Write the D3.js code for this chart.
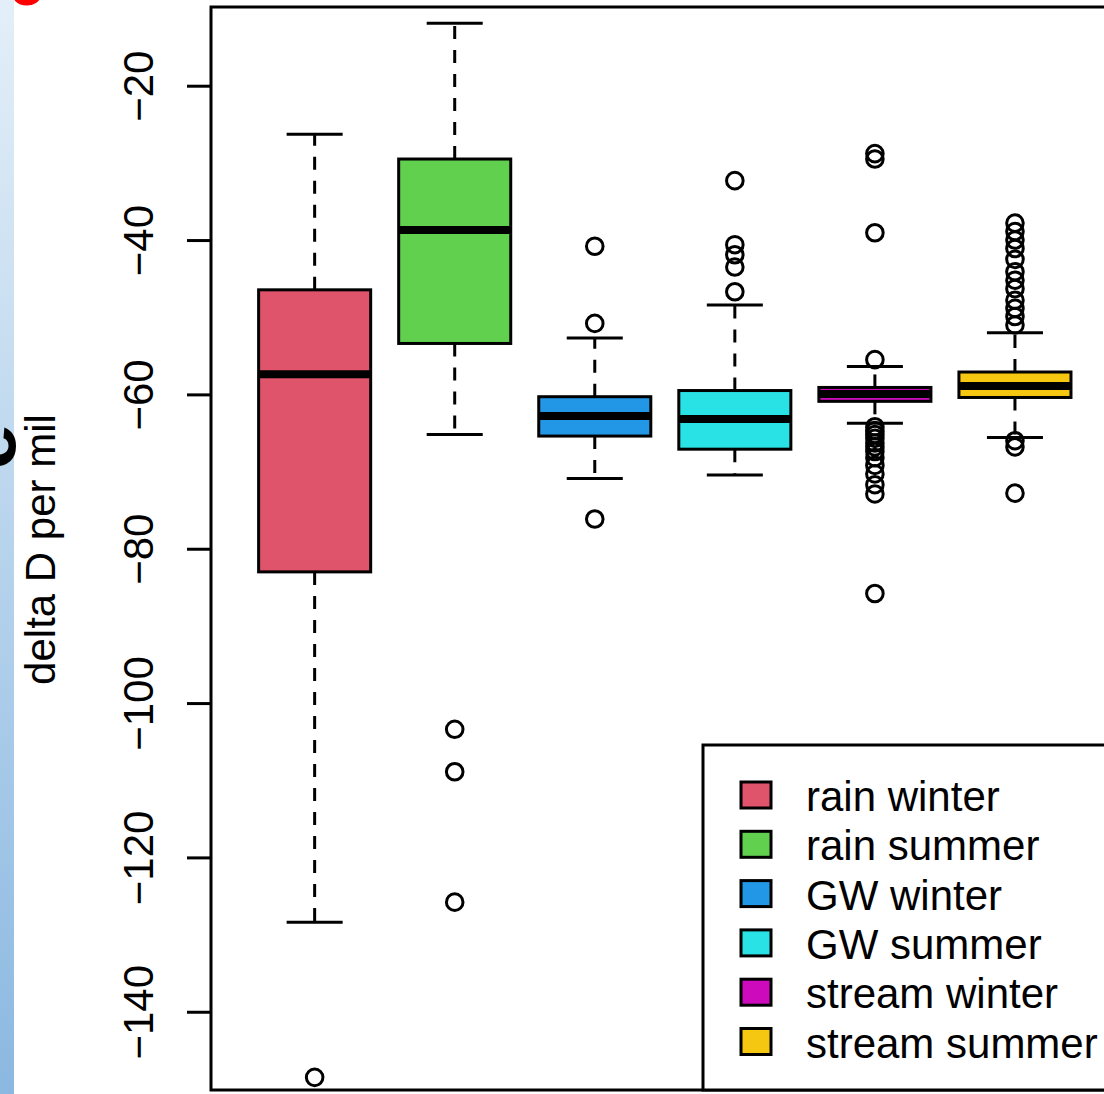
<!DOCTYPE html>
<html>
<head>
<meta charset="utf-8">
<script src="https://cdn.jsdelivr.net/npm/d3@7"></script>
<style>
  body { margin: 0; background: #fff; }
  svg { display: block; }
</style>
</head>
<body>
<svg id="chart" width="1104" height="1094"></svg>
<script>
// box statistics (delta D per mil)
const groups = ["rain winter", "rain summer", "GW winter", "GW summer", "stream winter", "stream summer"];
const whiskerHi = [-26.3, -11.9, -52.7, -48.4, -56.4, -52.0];
const boxHi = [-46.45, -29.5, -60.3, -59.5, -59.1, -57.1];
const medians = [-57.4, -38.7, -62.8, -63.2, -59.95, -58.9];
const boxLo = [-83.0, -53.4, -65.4, -67.1, -60.9, -60.4];
const whiskerLo = [-128.4, -65.2, -70.9, -70.45, -63.75, -65.6];
const outliers = [
  [-148.5],
  [-103.4, -108.9, -125.8],
  [-40.8, -50.8, -76.15],
  [-32.3, -40.6, -41.9, -43.5, -46.7],
  [-28.8, -29.5, -39.05, -55.5, -64.2, -64.7, -65.2, -65.7, -66.3, -66.8, -67.4, -68.2, -69.2, -70.3, -71.7, -72.9, -85.8],
  [-37.8, -38.9, -40.0, -41.1, -42.5, -44.1, -45.2, -46.3, -47.8, -48.85, -49.9, -51.0, -66.0, -66.8, -72.8]
];
const yTicks = [-20, -40, -60, -80, -100, -120, -140];
const palette = ["#DF536B", "#61D04F", "#2297E6", "#28E2E5", "#CD0BBC", "#F5C710"];

const font = "'Liberation Sans', Arial, sans-serif",
  fontSize = 42,
  plotLeft = 211,
  plotRight = 1118.6,
  plotTop = 7,
  plotBottom = 1090,
  lineW = 3;

const svg = d3.select("#chart");

// bits of the neighbouring panel on the left edge
const defs = svg.append("defs");
const grad = defs.append("linearGradient")
  .attr("id", "strip").attr("x1", 0).attr("y1", 0).attr("x2", 0).attr("y2", 1);
grad.append("stop").attr("offset", "0%").attr("stop-color", "#e3eff8");
grad.append("stop").attr("offset", "100%").attr("stop-color", "#8bb8e1");

svg.append("rect")
  .attr("x", 0).attr("y", 0).attr("width", 14).attr("height", 1094)
  .attr("fill", "url(#strip)");

svg.append("text")
  .attr("x", 9).attr("y", 5)
  .style("font-family", font).style("font-weight", "bold").style("font-size", "62px")
  .attr("fill", "#ff0000")
  .text("e");

svg.append("text")
  .attr("transform", "translate(15,447) rotate(-90)")
  .attr("text-anchor", "middle")
  .style("font-family", font).style("font-weight", "bold").style("font-size", "82px")
  .attr("fill", "#000")
  .text("e");

// scales
var x = d3.scaleLinear()
  .domain([0.26, 6.74])
  .range([plotLeft, plotRight]);

var y = d3.scaleLinear()
  .domain([-150.14, -9.8])
  .range([plotBottom, plotTop]);

const halfBox = x(1.4) - x(1),
  halfCap = halfBox / 2;

// y axis
const axis = svg.append("g")
  .attr("transform", `translate(${plotLeft},0)`)
  .call(d3.axisLeft(y).tickValues(yTicks).tickSize(24).tickFormat(d3.format("d")));

axis.select(".domain").remove();
axis.selectAll(".tick line")
  .attr("stroke", "#000")
  .attr("stroke-width", lineW);
axis.selectAll(".tick text")
  .attr("x", 0).attr("y", 0).attr("dy", null)
  .attr("text-anchor", "middle")
  .attr("transform", "translate(-58,0) rotate(-90)")
  .attr("fill", "#000")
  .style("font-family", font)
  .style("font-size", fontSize + "px");

svg.append("text")
  .attr("transform", `translate(55,${(plotTop + plotBottom) / 2 + 1}) rotate(-90)`)
  .attr("text-anchor", "middle")
  .style("font-family", font)
  .style("font-size", fontSize + "px")
  .attr("fill", "#000")
  .text("delta D per mil");

// boxes
const plot = svg.append("g").attr("id", "boxes");

groups.forEach(function(g, i) {
  const cx = x(i + 1);
  const grp = plot.append("g").attr("class", "box");

  // whiskers, dashed from the box outward
  [[boxHi[i], whiskerHi[i]], [boxLo[i], whiskerLo[i]]].forEach(function(seg) {
    grp.append("line")
      .attr("x1", cx).attr("x2", cx)
      .attr("y1", y(seg[0])).attr("y2", y(seg[1]))
      .attr("stroke", "#000")
      .attr("stroke-width", lineW)
      .attr("stroke-dasharray", "13,11");
    grp.append("line")
      .attr("x1", cx - halfCap).attr("x2", cx + halfCap)
      .attr("y1", y(seg[1])).attr("y2", y(seg[1]))
      .attr("stroke", "#000")
      .attr("stroke-width", lineW);
  });

  grp.append("rect")
    .attr("x", cx - halfBox)
    .attr("y", y(boxHi[i]))
    .attr("width", 2 * halfBox)
    .attr("height", y(boxLo[i]) - y(boxHi[i]))
    .attr("fill", palette[i])
    .attr("stroke", "#000")
    .attr("stroke-width", lineW);

  grp.append("line")
    .attr("x1", cx - halfBox).attr("x2", cx + halfBox)
    .attr("y1", y(medians[i])).attr("y2", y(medians[i]))
    .attr("stroke", "#000")
    .attr("stroke-width", 8);

  grp.selectAll(".outlier")
    .data(outliers[i])
    .enter()
    .append("circle")
    .attr("class", "outlier")
    .attr("cx", cx)
    .attr("cy", d => y(d))
    .attr("r", 8.3)
    .attr("fill", "none")
    .attr("stroke", "#000")
    .attr("stroke-width", 3);
});

// plot frame
svg.append("rect")
  .attr("x", plotLeft).attr("y", plotTop)
  .attr("width", plotRight - plotLeft)
  .attr("height", plotBottom - plotTop)
  .attr("fill", "none")
  .attr("stroke", "#000")
  .attr("stroke-width", lineW);

// legend
const legend = svg.append("g").attr("transform", "translate(703,745)");

legend.append("rect")
  .attr("x", 0).attr("y", 0)
  .attr("width", 440).attr("height", plotBottom - 745)
  .attr("fill", "#fff")
  .attr("stroke", "#000")
  .attr("stroke-width", lineW);

const rows = legend.selectAll(".item")
  .data(groups)
  .enter()
  .append("g")
  .attr("class", "item")
  .attr("transform", (d, i) => `translate(0,${66 + i * 49.3})`);

rows.append("rect")
  .attr("x", 38).attr("y", -29)
  .attr("width", 30).attr("height", 26)
  .attr("fill", (d, i) => palette[i])
  .attr("stroke", "#000")
  .attr("stroke-width", lineW);

rows.append("text")
  .attr("x", 103).attr("y", 0)
  .style("font-family", font)
  .style("font-size", fontSize + "px")
  .attr("fill", "#000")
  .text(d => d);
</script>
</body>
</html>
